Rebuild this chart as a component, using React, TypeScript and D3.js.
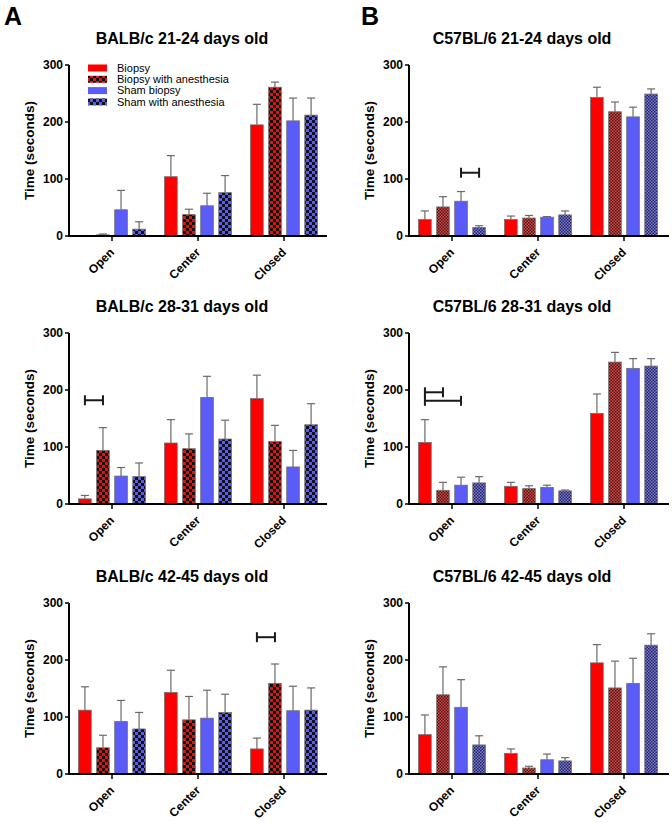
import React from "react";
import * as d3 from "d3";

// categories on the x axis and the four groups
const categories = ["Open", "Center", "Closed"];
const seriesNames = ["Biopsy", "Biopsy with anesthesia", "Sham biopsy", "Sham with anesthesia"];
const yTicks = [0, 100, 200, 300];

// means: one row per category (Open, Center, Closed), one value per group
const balb2124Mean = [[0.5, 2, 46, 12], [104, 37.5, 53, 76], [195, 261, 202, 212]];
const balb2124Sem = [[0.3, 1.5, 34, 13], [37, 9.5, 22, 30], [36, 9, 40, 30]];

const balb2831Mean = [[9, 94, 49, 48], [107, 97, 187, 114], [185, 109.5, 65, 139]];
const balb2831Sem = [[6, 40, 15, 24], [41, 26, 37, 33], [41, 28.5, 29, 37]];

const balb4245Mean = [[112, 46, 92, 79], [143, 95, 98, 108], [44, 159, 111, 112]];
const balb4245Sem = [[41, 22, 37, 29], [39, 41, 49, 32], [19, 34, 43, 39]];

const c57_2124Mean = [[29, 51, 61, 15], [29, 31.5, 33, 37], [243, 218, 209, 249]];
const c57_2124Sem = [[15, 18, 17, 3], [6, 4.5, 1, 7], [18, 17, 17, 9]];

const c57_2831Mean = [[108, 24, 33, 37], [31, 27, 29, 23], [159, 249, 238, 242]];
const c57_2831Sem = [[40, 14, 14, 11], [7, 5, 4, 1.5], [34, 17, 17, 13]];

const c57_4245Mean = [[69, 139, 117, 51], [36, 10.5, 25, 23], [195, 151, 159, 226]];
const c57_4245Sem = [[34.5, 49, 48.5, 16], [8, 3, 10, 5.6], [32, 47, 44, 20]];

// significance brackets: category index, from group, to group, height (seconds)
const balb2831Brackets = [{ cat: 0, from: 0, to: 1, value: 182 }];
const balb4245Brackets = [{ cat: 2, from: 0, to: 1, value: 240 }];
const c57_2124Brackets = [{ cat: 0, from: 2, to: 3, value: 111 }];
const c57_2831Brackets = [{ cat: 0, from: 0, to: 1, value: 196 }, { cat: 0, from: 0, to: 2, value: 181 }];

const panels = [
  { title: "BALB/c 21-24 days old", col: 0, row: 0, mean: balb2124Mean, sem: balb2124Sem, brackets: [], legend: true },
  { title: "BALB/c 28-31 days old", col: 0, row: 1, mean: balb2831Mean, sem: balb2831Sem, brackets: balb2831Brackets },
  { title: "BALB/c 42-45 days old", col: 0, row: 2, mean: balb4245Mean, sem: balb4245Sem, brackets: balb4245Brackets },
  { title: "C57BL/6 21-24 days old", col: 1, row: 0, mean: c57_2124Mean, sem: c57_2124Sem, brackets: c57_2124Brackets },
  { title: "C57BL/6 28-31 days old", col: 1, row: 1, mean: c57_2831Mean, sem: c57_2831Sem, brackets: c57_2831Brackets },
  { title: "C57BL/6 42-45 days old", col: 1, row: 2, mean: c57_4245Mean, sem: c57_4245Sem, brackets: [] },
];

const W = 672;
const H = 826;
const FONT = "'Liberation Sans', Arial, Helvetica, sans-serif";
const RED = "#ff0000";
const BLUE = "#5b5bf8";
const BAR_STROKE = "#6e6e6e";
const ERR_COLOR = "#6a6a6a";

const colX = [69, 409];
const rowY0 = [236, 504, 774];
const plotW = 258;
const plotH = 171;

type PanelProps = { p: any; fine: boolean };

const Panel = ({ p, fine }: PanelProps) => {
  const x0 = colX[p.col];
  const y0 = rowY0[p.row];
  const x = d3.scaleBand().domain(categories).range([x0, x0 + plotW]);
  const y = d3.scaleLinear().domain([0, 300]).range([y0, y0 - plotH]);
  const inner = d3
    .scaleBand()
    .domain(seriesNames)
    .range([-x.bandwidth() * 0.42, x.bandwidth() * 0.42])
    .paddingInner(0.3)
    .paddingOuter(0.15);
  const suffix = fine ? "B" : "A";
  const fills = [RED, `url(#chkRed${suffix})`, BLUE, `url(#chkBlue${suffix})`];
  const centerOf = (c: number, s: number) =>
    (x(categories[c]) as number) + x.bandwidth() / 2 + (inner(seriesNames[s]) as number) + inner.bandwidth() / 2;

  return (
    <g>
      <text x={x0 + 113} y={y0 - plotH - 21} textAnchor="middle" fontSize={16} fontWeight="bold">
        {p.title}
      </text>

      {/* bars + error bars */}
      {categories.map((cat, ci) =>
        seriesNames.map((s, si) => {
          const v = p.mean[ci][si];
          const top = v + p.sem[ci][si];
          const bx = (x(cat) as number) + x.bandwidth() / 2 + (inner(s) as number);
          const cx = bx + inner.bandwidth() / 2;
          return (
            <g key={cat + s}>
              <line x1={cx} x2={cx} y1={y(v)} y2={y(top)} stroke={ERR_COLOR} strokeWidth={1.2} />
              <line x1={cx - 4} x2={cx + 4} y1={y(top)} y2={y(top)} stroke={ERR_COLOR} strokeWidth={1.2} />
              <rect
                x={bx}
                y={y(v)}
                width={inner.bandwidth()}
                height={y0 - y(v)}
                fill={fills[si]}
                stroke={BAR_STROKE}
                strokeWidth={0.8}
              />
            </g>
          );
        })
      )}

      {/* brackets */}
      {p.brackets.map((b: any, i: number) => {
        const xa = centerOf(b.cat, b.from);
        const xb = centerOf(b.cat, b.to);
        const yy = y(b.value);
        return (
          <g key={"br" + i} stroke="#1a1a1a" strokeWidth={2}>
            <line x1={xa} x2={xb} y1={yy} y2={yy} />
            <line x1={xa} x2={xa} y1={yy - 5} y2={yy + 5} />
            <line x1={xb} x2={xb} y1={yy - 5} y2={yy + 5} />
          </g>
        );
      })}

      {/* y axis */}
      <line x1={x0} x2={x0} y1={y(300)} y2={y0 + 1} stroke="#000" strokeWidth={2} />
      {yTicks.map((t) => (
        <g key={t}>
          <line x1={x0 - 4} x2={x0} y1={y(t)} y2={y(t)} stroke="#000" strokeWidth={1.5} />
          <text x={x0 - 6} y={y(t)} dy="0.35em" textAnchor="end" fontSize={12} fontWeight="bold">
            {t}
          </text>
        </g>
      ))}
      <text
        transform={`translate(${x0 - 40},${y0 - plotH / 2}) rotate(-90)`}
        dy="0.35em"
        textAnchor="middle"
        fontSize={13.5}
        fontWeight="bold"
      >
        Time (seconds)
      </text>

      {/* x axis */}
      <line x1={x0 - 1} x2={x0 + plotW + (fine ? 2 : 0)} y1={y0} y2={y0} stroke="#000" strokeWidth={2} />
      {categories.map((cat) => {
        const tx = (x(cat) as number) + x.bandwidth() / 2;
        return (
          <g key={cat}>
            <line x1={tx} x2={tx} y1={y0} y2={y0 + 5} stroke="#000" strokeWidth={1.5} />
            <text
              transform={`translate(${tx + 3},${y0 + 17}) rotate(-45)`}
              textAnchor="end"
              fontSize={12}
              fontWeight="bold"
            >
              {cat}
            </text>
          </g>
        );
      })}

      {p.legend && (
        <g>
          {seriesNames.map((s, si) => {
            const ly = y0 - plotH + 3 + si * 11.3;
            return (
              <g key={s}>
                <rect x={x0 + 19} y={ly - 3.5} width={19} height={7} fill={fills[si]} />
                <text x={x0 + 48} y={ly} dy="0.35em" fontSize={11}>
                  {s}
                </text>
              </g>
            );
          })}
        </g>
      )}
    </g>
  );
};

const Checker = ({ id, color, dark, size }: { id: string; color: string; dark: string; size: number }) => (
  <pattern id={id} width={size * 2} height={size * 2} patternUnits="userSpaceOnUse">
    <rect width={size * 2} height={size * 2} fill={color} />
    <rect width={size} height={size} fill={dark} />
    <rect x={size} y={size} width={size} height={size} fill={dark} />
  </pattern>
);

export default function App() {
  return (
    <svg
      width={W}
      height={H}
      style={{ position: "absolute", left: 0, top: 0, background: "#fff" }}
      fontFamily={FONT}
    >
      <defs>
        <Checker id="chkRedA" color="#dc1414" dark="#111" size={3} />
        <Checker id="chkBlueA" color="#5b5bf0" dark="#111" size={3} />
        <Checker id="chkRedB" color="#d84a4a" dark="#4a1414" size={1.5} />
        <Checker id="chkBlueB" color="#7a7ae2" dark="#24244e" size={1.5} />
      </defs>
      <rect width={W} height={H} fill="#fff" />
      <text x={4} y={25} fontSize={25} fontWeight="bold">A</text>
      <text x={361} y={25} fontSize={25} fontWeight="bold">B</text>
      {panels.map((p) => (
        <Panel key={p.title} p={p} fine={p.col === 1} />
      ))}
    </svg>
  );
}
